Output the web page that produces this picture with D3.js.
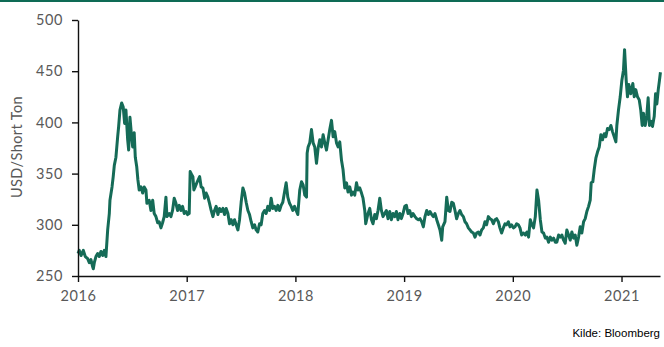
<!DOCTYPE html>
<html>
<head>
<meta charset="utf-8">
<script src="https://cdn.jsdelivr.net/npm/d3@7"></script>
<style>
  html, body { margin: 0; padding: 0; background: #fff; }
  svg { display: block; }
  .tick text { font-family: Lato, "Open Sans", sans-serif; font-size: 14.5px; fill: #595959; letter-spacing: 0.6px; }
</style>
</head>
<body>
<svg id="chart" width="664" height="347"></svg>
<script>
// decimal years (2016.000 = 1 Jan 2016)
const t = [
2016.000,2016.012,2016.028,2016.049,2016.067,2016.089,2016.104,2016.119,2016.135,2016.141,
2016.150,2016.165,2016.181,2016.196,2016.211,2016.227,2016.242,2016.257,2016.273,2016.288,
2016.294,2016.313,2016.324,2016.334,2016.349,2016.365,2016.374,2016.386,2016.402,2016.416,
2016.429,2016.441,2016.457,2016.466,2016.478,2016.490,2016.503,2016.517,2016.527,2016.540,
2016.551,2016.563,2016.579,2016.595,2016.609,2016.625,2016.634,2016.655,2016.671,2016.687,
2016.701,2016.717,2016.733,2016.747,2016.763,2016.778,2016.793,2016.809,2016.818,2016.839,
2016.855,2016.870,2016.885,2016.901,2016.916,2016.931,2016.947,2016.962,2016.977,2016.993,
2017.008,2017.023,2017.032,2017.040,2017.057,2017.066,2017.078,2017.097,2017.119,2017.133,
2017.149,2017.165,2017.179,2017.195,2017.210,2017.225,2017.241,2017.256,2017.271,2017.287,
2017.302,2017.317,2017.333,2017.348,2017.363,2017.379,2017.394,2017.409,2017.425,2017.440,
2017.455,2017.471,2017.486,2017.501,2017.517,2017.532,2017.547,2017.563,2017.578,2017.593,
2017.608,2017.624,2017.639,2017.654,2017.670,2017.685,2017.700,2017.716,2017.731,2017.746,
2017.762,2017.777,2017.792,2017.808,2017.823,2017.838,2017.854,2017.869,2017.884,2017.900,
2017.915,2017.930,2017.946,2017.961,2017.976,2017.992,2018.007,2018.022,2018.040,2018.056,
2018.071,2018.086,2018.102,2018.108,2018.117,2018.132,2018.148,2018.163,2018.178,2018.194,
2018.209,2018.224,2018.240,2018.255,2018.270,2018.286,2018.301,2018.316,2018.332,2018.347,
2018.362,2018.378,2018.393,2018.408,2018.424,2018.438,2018.454,2018.470,2018.484,2018.500,
2018.516,2018.530,2018.546,2018.562,2018.576,2018.592,2018.608,2018.622,2018.638,2018.647,
2018.668,2018.684,2018.700,2018.714,2018.730,2018.745,2018.760,2018.776,2018.791,2018.806,
2018.822,2018.837,2018.852,2018.868,2018.883,2018.898,2018.914,2018.929,2018.944,2018.960,
2018.975,2018.990,2019.006,2019.021,2019.036,2019.051,2019.067,2019.082,2019.100,2019.116,
2019.131,2019.146,2019.162,2019.177,2019.192,2019.208,2019.223,2019.238,2019.254,2019.269,
2019.284,2019.300,2019.315,2019.330,2019.346,2019.355,2019.376,2019.392,2019.407,2019.422,
2019.438,2019.453,2019.468,2019.483,2019.499,2019.514,2019.529,2019.545,2019.560,2019.575,
2019.591,2019.606,2019.621,2019.637,2019.652,2019.667,2019.683,2019.698,2019.713,2019.729,
2019.744,2019.759,2019.775,2019.790,2019.805,2019.821,2019.836,2019.851,2019.867,2019.881,
2019.897,2019.913,2019.928,2019.943,2019.959,2019.974,2019.989,2020.005,2020.020,2020.035,
2020.051,2020.066,2020.081,2020.097,2020.115,2020.130,2020.145,2020.161,2020.176,2020.191,
2020.207,2020.222,2020.237,2020.253,2020.268,2020.283,2020.299,2020.313,2020.329,2020.345,
2020.359,2020.375,2020.391,2020.405,2020.421,2020.437,2020.451,2020.467,2020.482,2020.497,
2020.513,2020.528,2020.543,2020.559,2020.574,2020.589,2020.605,2020.620,2020.635,2020.651,
2020.666,2020.681,2020.697,2020.712,2020.721,2020.736,2020.749,2020.764,2020.779,2020.795,
2020.810,2020.825,2020.841,2020.856,2020.871,2020.887,2020.902,2020.917,2020.933,2020.948,
2020.957,2020.972,2020.988,2021.003,2021.018,2021.028,2021.043,2021.055,2021.067,2021.085,
2021.104,2021.117,2021.131,2021.147,2021.163,2021.177,2021.190,2021.202,2021.218,2021.233,
2021.245,2021.257,2021.273,2021.285,2021.301,2021.313,2021.325,2021.338,2021.349,2021.358
];
// USD per short ton
const price = [
272,275,270,275,269,267,263,266,259,257,
263,269,272,269,274,270,275,269,295,311,
324,337,347,358,366,386,396,412,419,415,
399,412,383,373,405,390,376,390,366,357,
344,334,337,331,337,334,321,324,314,324,
311,308,302,303,297,302,308,327,308,311,
308,314,326,321,314,319,314,318,311,313,
310,311,352,350,347,334,337,342,347,337,
336,326,331,327,321,314,308,314,318,310,
316,313,316,310,316,311,301,305,300,305,
300,295,305,322,336,331,322,314,310,303,
297,300,295,293,301,300,311,314,311,318,
314,326,316,318,314,319,314,319,322,332,
341,327,321,318,314,318,314,310,334,342,
339,329,327,370,376,380,393,380,376,360,
375,383,376,388,380,373,383,393,402,386,
391,380,376,381,363,354,336,341,332,337,
329,332,329,341,334,336,331,326,314,301,
311,316,305,301,310,306,314,326,314,308,
311,314,306,313,305,311,308,313,305,311,
306,311,318,319,311,314,308,311,308,306,
305,306,303,298,308,314,310,313,310,308,
311,305,300,295,285,298,303,327,314,313,
322,321,314,306,311,314,310,308,303,301,
297,295,293,292,288,292,293,290,295,297,
303,300,308,306,305,301,305,306,303,297,
292,297,301,300,303,298,300,297,298,301,
300,297,290,292,290,293,288,305,300,297,
308,334,324,305,293,292,287,288,283,288,
285,287,283,283,290,288,290,285,282,295,
290,285,293,287,290,280,288,298,292,303,
306,313,318,324,341,342,354,365,371,376,
388,383,389,386,394,393,397,391,386,381,
397,412,425,441,451,471,441,425,437,428,
438,425,432,425,422,412,397,409,397,407,
424,397,401,396,406,428,418,432,441,449
];
const yTicks = [250, 300, 350, 400, 450, 500];
const xTicks = [2016, 2017, 2018, 2019, 2020, 2021];
const yTitle = "USD/Short Ton";
const source = "Kilde: Bloomberg";

const svg = d3.select("#chart");
const x = d3.scaleLinear().domain([2016, 2021.354]).range([78, 660]);
const y = d3.scaleLinear().domain([250, 500]).range([276, 20]);

// top rule
svg.append("rect").attr("x", 0).attr("y", 0).attr("width", 664).attr("height", 2).attr("fill", "#0e6b55");

const data = t.map((d, i) => ({ t: d, v: price[i] }));

svg.append("path")
  .datum(data)
  .attr("fill", "none")
  .attr("stroke", "#156b57")
  .attr("stroke-width", 3)
  .attr("stroke-linejoin", "round")
  .attr("d", d3.line().x(d => x(d.t)).y(d => y(d.v)));

const yAxis = svg.append("g").attr("transform", "translate(78,0)")
  .call(d3.axisLeft(y).tickValues(yTicks).tickSize(6).tickPadding(9).tickSizeOuter(0));
const xAxis = svg.append("g").attr("transform", "translate(0,276)")
  .call(d3.axisBottom(x).tickValues(xTicks).tickFormat(d3.format("d")).tickSize(6).tickPadding(9).tickSizeOuter(0));
[yAxis, xAxis].forEach(g => {
  g.select(".domain").attr("stroke", "#111").attr("stroke-width", 1.4);
  g.selectAll(".tick line").attr("stroke", "#111").attr("stroke-width", 1.4);
});

svg.append("text")
  .attr("transform", "translate(22,147) rotate(-90)")
  .attr("text-anchor", "middle")
  .style("font-family", "Lato, 'Open Sans', sans-serif")
  .style("font-size", "14.5px")
  .style("letter-spacing", "0.4px")
  .attr("fill", "#595959")
  .text(yTitle);

svg.append("text")
  .attr("x", 660).attr("y", 337)
  .attr("text-anchor", "end")
  .style("font-family", "'Liberation Sans', Arial, sans-serif")
  .style("font-size", "11.5px")
  .attr("fill", "#000")
  .text(source);
</script>
</body>
</html>
